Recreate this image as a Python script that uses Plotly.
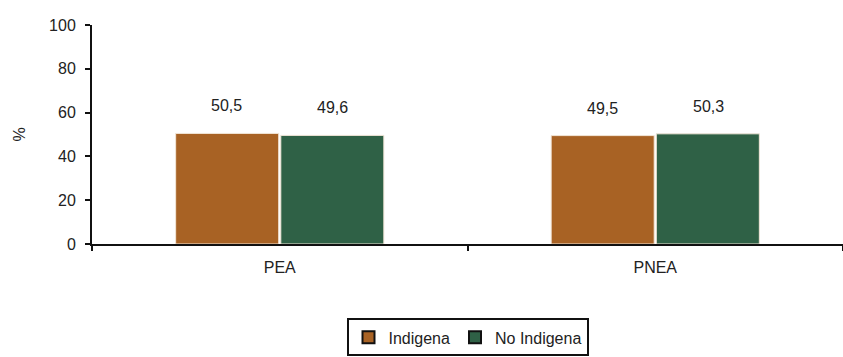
import plotly.graph_objects as go

categories = ["PEA", "PNEA"]
series_names = ["Indigena", "No Indigena"]
indigena = [50.5, 49.5]
no_indigena = [49.6, 50.3]
y_ticks = [0, 20, 40, 60, 80, 100]

colors = ["#A86224", "#2F6146"]
FONT = "Liberation Sans Narrow, Arial Narrow, Liberation Sans, Arial, sans-serif"
TXT = "#222222"

fig = go.Figure()
for name, vals, col in zip(series_names, [indigena, no_indigena], colors):
    fig.add_trace(go.Bar(
        x=categories, y=vals, name=name, showlegend=False,
        marker=dict(color=col, line=dict(color="#F2E6D8", width=1)),
    ))
for name, col in zip(series_names, colors):
    # legend swatch with dark outline, kept on a hidden overlay axis
    fig.add_trace(go.Bar(
        x=[categories[0]], y=[None], name=name, xaxis="x2", yaxis="y2",
        marker=dict(color=col, line=dict(color="#111111", width=2)),
    ))

# value labels above each bar
for i, cat in enumerate(categories):
    for j, vals in enumerate([indigena, no_indigena]):
        fig.add_annotation(
            x=cat, y=vals[i], xref="x", yref="y",
            text=f"{vals[i]:.1f}".replace(".", ","),
            showarrow=False, yanchor="bottom", yshift=17,
            xshift=(-53 if j == 0 else 53),
            font=dict(family=FONT, size=16, color=TXT),
        )

fig.update_layout(
    width=843, height=357,
    margin=dict(l=92, r=0, t=25, b=110),
    paper_bgcolor="white", plot_bgcolor="white",
    barmode="group", bargap=0.44, bargroupgap=0.02,
    font=dict(family=FONT, size=16, color=TXT),
    showlegend=True,
    legend=dict(
        orientation="h", x=0.5, xanchor="center", y=-0.34, yanchor="top",
        bordercolor="#111111", borderwidth=2, bgcolor="white",
        font=dict(family=FONT, size=16, color=TXT),
        traceorder="normal", tracegroupgap=0,
    ),
    xaxis=dict(
        range=[-0.5, 1.5], showline=True, linecolor="#111111", linewidth=2,
        ticks="outside", tickson="boundaries", ticklen=5, tickcolor="#111111",
        tickwidth=2, ticklabelstandoff=8, showgrid=False, zeroline=False,
    ),
    yaxis=dict(
        range=[0, 100], tickvals=y_ticks, showline=True, linecolor="#111111",
        linewidth=2, ticks="outside", ticklen=5, tickcolor="#111111",
        tickwidth=2, ticklabelstandoff=6, showgrid=False, zeroline=False,
        title=dict(text="%", standoff=19, font=dict(family=FONT, size=16, color=TXT)),
    ),
    xaxis2=dict(overlaying="x", visible=False, range=[0, 1]),
    yaxis2=dict(overlaying="y", visible=False, range=[0, 1]),
)

fig.write_html("out.html")
